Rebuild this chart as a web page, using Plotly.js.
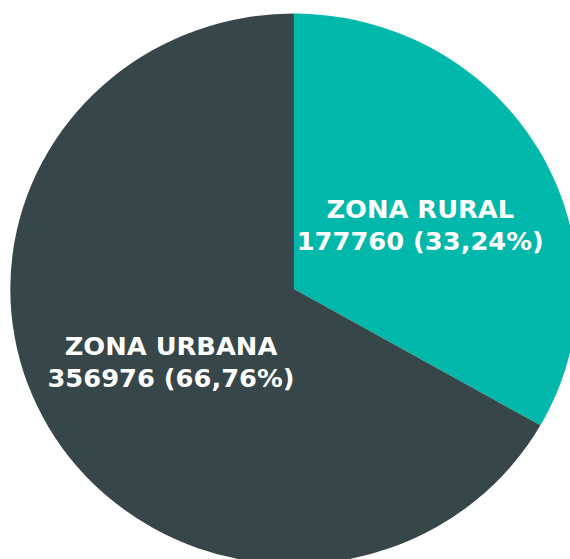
<!DOCTYPE html>
<html>
<head>
<meta charset="utf-8">
<script src="https://cdn.plot.ly/plotly-3.0.1.min.js"></script>
<style>
  html, body { margin: 0; padding: 0; overflow: hidden; background: #ffffff; width: 570px; height: 559px; }
  #chart { width: 570px; height: 566px; transform: scaleX(1.03); transform-origin: 0 0; }
</style>
</head>
<body>
<div id="chart"></div>
<script>
  var categories = ["ZONA RURAL", "ZONA URBANA"];
  var populationValues = [177760, 356976];
  var sliceColors = ["#01B8AA", "#374649"];

  var total = populationValues.reduce(function (a, b) { return a + b; }, 0);
  function pctText(v) {
    return (v / total * 100).toFixed(2).replace(".", ",") + "%";
  }
  var labelTexts = categories.map(function (c, i) {
    return "<b>" + c + "</b><br><b>" + populationValues[i] + " (" + pctText(populationValues[i]) + ")</b>";
  });
  var labelAnchors = [[0.715, 0.600], [0.291, 0.359]];

  var trace = {
    type: "pie",
    labels: categories,
    values: populationValues,
    sort: false,
    direction: "clockwise",
    rotation: 0,
    marker: { colors: sliceColors, line: { width: 0 } },
    textinfo: "none",
    hoverinfo: "none",
    domain: { x: [0.01754, 0.98386], y: [0.00283, 0.97597] }
  };

  var annotations = labelTexts.map(function (t, i) {
    return {
      xref: "paper", yref: "paper",
      x: labelAnchors[i][0], y: labelAnchors[i][1],
      xanchor: "center", yanchor: "middle",
      text: t, showarrow: false, align: "center",
      font: { family: "DejaVu Sans", size: 25, color: "#ffffff", weight: "bold" }
    };
  });

  var layout = {
    width: 570,
    height: 566,
    margin: { l: 0, r: 0, t: 0, b: 0, pad: 0 },
    showlegend: false,
    paper_bgcolor: "#ffffff",
    plot_bgcolor: "#ffffff",
    annotations: annotations
  };

  Plotly.newPlot("chart", [trace], layout, { displayModeBar: false, staticPlot: true });
</script>
</body>
</html>
